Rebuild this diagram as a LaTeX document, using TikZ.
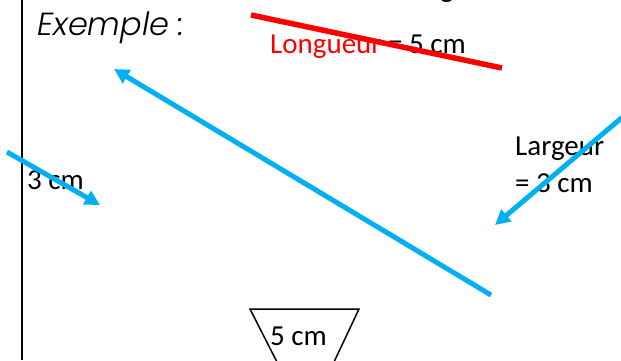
\documentclass[tikz,border=0pt]{standalone}
\usepackage{fontspec}
\setmainfont{Carlito}
\newfontfamily\gothic{Poppins Light}
\usetikzlibrary{arrows.meta}
\definecolor{skyblue}{HTML}{00B0F0}
\definecolor{redline}{HTML}{FF0000}
\tikzset{
  txt/.style={inner sep=0pt, anchor=base west, font=\fontsize{29}{34}\selectfont},
  blueline/.style={draw=skyblue, line width=5pt, -{Triangle[length=15pt,width=15pt]}},
}
\begin{document}
\begin{tikzpicture}[x=1pt,y=-1pt]
\useasboundingbox (0,0) rectangle (621,360);
% left margin line
\coordinate (vt) at (22,0);
\coordinate (vb) at (22,360);
\draw[line width=2pt] (vt) -- (vb);
% fragment of text at top
\node[txt] (gfrag) at (440,-3) {g};
% title
\node[inner sep=0pt, anchor=base west, font=\gothic\itshape\fontsize{32}{38}\selectfont] (title) at (37,35) {Exemple :};
% red line
\coordinate (r1) at (251,15);
\coordinate (r2) at (502,68);
\node[txt] (lon) at (270,53) {\textcolor{redline}{Longueur} = 5 cm};
\draw[draw=redline, line width=5.5pt] (r1) -- (r2);
% big blue arrow
\coordinate (b1) at (491,295);
\coordinate (b2) at (114,69);
\draw[blueline] (b1) -- (b2);
% left small arrow
\node[txt] (tcm) at (27,189) {3 cm};
\coordinate (l1) at (7,152);
\coordinate (l2) at (100,205);
\draw[blueline] (l1) -- (l2);
% right arrow
\node[txt] (larg1) at (515,155) {Largeur};
\node[txt] (larg2) at (515,192) {= 3 cm};
\coordinate (rr1) at (625,115);
\coordinate (rr2) at (495,225);
\draw[blueline] (rr1) -- (rr2);
% trapezoid
\coordinate (t1) at (277,362);
\coordinate (t2) at (250,309);
\coordinate (t3) at (359,309);
\coordinate (t4) at (334,362);
\draw[line width=1.5pt] (t1) -- (t2) -- (t3) -- (t4);
\node[txt] (fcm) at (270,345) {5 cm};
\end{tikzpicture}
\end{document}
